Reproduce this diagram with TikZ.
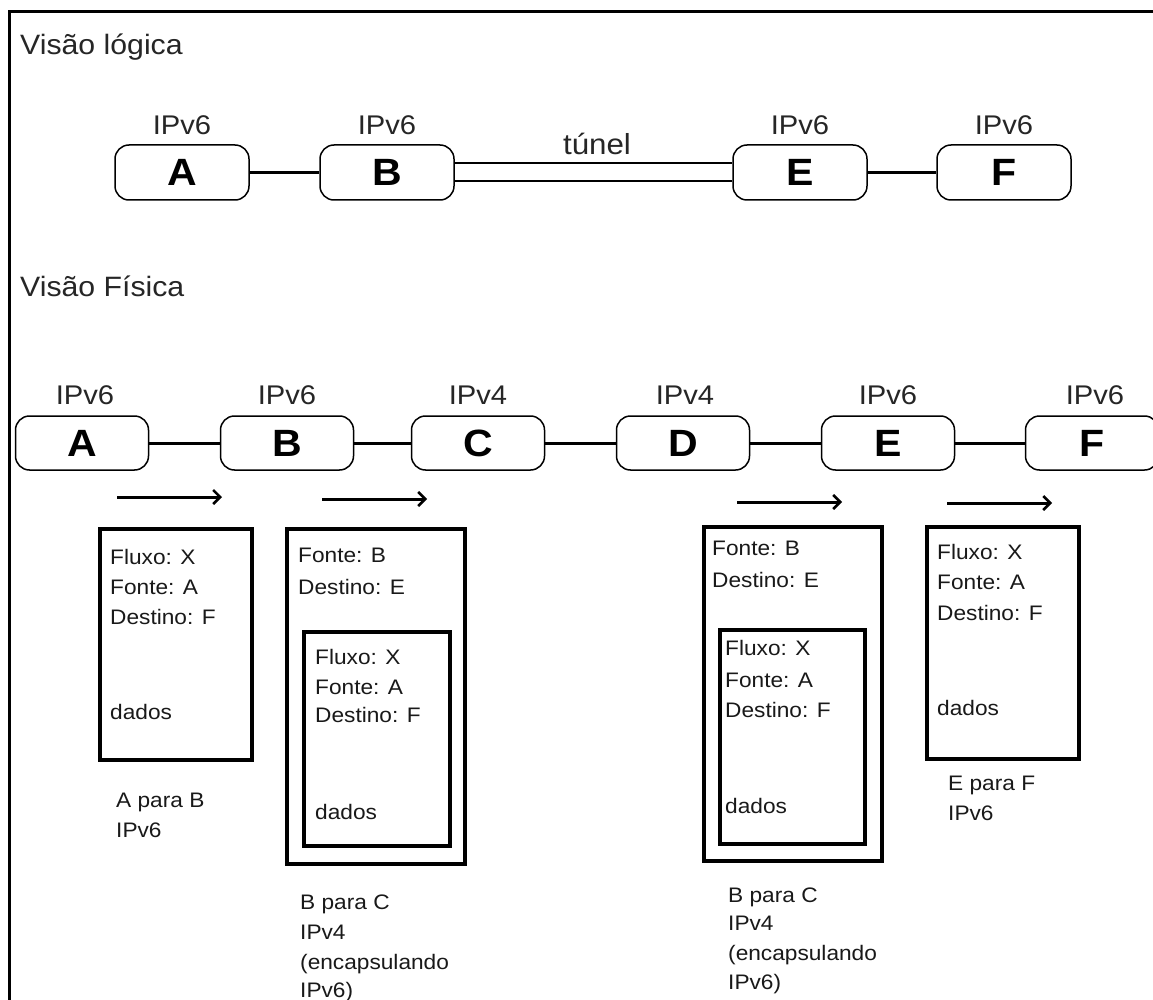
\documentclass[tikz,border=0pt]{standalone}
\usepackage{fontspec}
\setmainfont{Liberation Sans}[FakeStretch=1.08]
\usetikzlibrary{arrows.meta}
\begin{document}
\begin{tikzpicture}[x=1pt,y=-1pt,
  title/.style={anchor=base west, inner sep=0, font=\fontsize{28}{34}\selectfont, text=black!85},
  ver/.style={anchor=base, inner sep=0, font=\fontsize{27}{32}\selectfont, text=black!85},
  host/.style={draw, line width=1.5pt, rounded corners=14pt, minimum width=133pt, minimum height=54pt, inner sep=0, font=\fontsize{38}{44}\selectfont\bfseries},
  link/.style={line width=3pt},
  tun/.style={double, double distance=16pt, line width=2pt},
  flow/.style={line width=3pt, -{Straight Barb[length=7pt,width=14pt,line width=2.5pt]}},
  pkt/.style={draw, line width=4pt, inner sep=0, anchor=north west},
  txt/.style={anchor=base west, inner sep=0, font=\fontsize{21}{26}\selectfont, text=black!90}
]
\useasboundingbox (0,0) rectangle (1153,1000);
\fill[white] (0,0) rectangle (1153,1000);
\clip (0,0) rectangle (1153,1000);
\draw[line width=3pt] (9,1002) -- (9,12) -- (1156,12);

% ---------- Logical view ----------
\node[title] (tl) at (20,55) {Visão lógica};

\node[host, minimum width=134pt, minimum height=55pt] (lA) at (182,172.5) {A};
\node[host, minimum width=134pt, minimum height=55pt] (lB) at (387,172.5) {B};
\node[host, minimum width=134pt, minimum height=55pt] (lE) at (800,172.5) {E};
\node[host, minimum width=134pt, minimum height=55pt] (lF) at (1004,172.5) {F};

\node[ver] (vlA) at (182,135) {IPv6};
\node[ver] (vlB) at (387,135) {IPv6};
\node[ver] (vlE) at (800,135) {IPv6};
\node[ver] (vlF) at (1004,135) {IPv6};

\draw[link] (lA) -- (lB);
\draw[tun] (lB) -- (lE);
\draw[link] (lE) -- (lF);
\node[ver, font=\fontsize{29}{34}\selectfont] (tunel) at (597,155) {túnel};

% ---------- Physical view ----------
\node[title] (tp) at (20,296) {Visão Física};

\node[host] (pA) at (82,443) {A};
\node[host] (pB) at (287,443) {B};
\node[host] (pC) at (478,443) {C};
\node[host] (pD) at (683,443) {D};
\node[host] (pE) at (888,443) {E};
\node[host] (pF) at (1092,443) {F};

\node[ver] (vpA) at (85,404) {IPv6};
\node[ver] (vpB) at (287,404) {IPv6};
\node[ver] (vpC) at (478,404) {IPv4};
\node[ver] (vpD) at (685,404) {IPv4};
\node[ver] (vpE) at (888,404) {IPv6};
\node[ver] (vpF) at (1095,404) {IPv6};

\draw[link] (pA) -- (pB);
\draw[link] (pB) -- (pC);
\draw[link] (pC) -- (pD);
\draw[link] (pD) -- (pE);
\draw[link] (pE) -- (pF);

% flow arrows
\coordinate (f1s) at (117,497); \coordinate (f1e) at (222,497);
\coordinate (f2s) at (322,499); \coordinate (f2e) at (427,499);
\coordinate (f3s) at (737,502); \coordinate (f3e) at (842,502);
\coordinate (f4s) at (947,503); \coordinate (f4e) at (1052,503);
\draw[flow] (f1s) -- (f1e);
\draw[flow] (f2s) -- (f2e);
\draw[flow] (f3s) -- (f3e);
\draw[flow] (f4s) -- (f4e);

% packet 1 (A to B)
\node[pkt, minimum width=152pt, minimum height=231pt] (k1) at (98,527) {};
\node[txt] (k1a) at (110,564.5) {Fluxo: X};
\node[txt] (k1b) at (110,594.5) {Fonte: A};
\node[txt] (k1c) at (110,624.5) {Destino: F};
\node[txt] (k1d) at (110,719.5) {dados};
\node[txt] (c1a) at (116,807.5) {A para B};
\node[txt] (c1b) at (116,837.5) {IPv6};

% packet 2 (B to C, IPv4 encapsulating IPv6)
\node[pkt, minimum width=178pt, minimum height=335pt] (k2) at (285,527) {};
\node[txt] (k2a) at (298,562.5) {Fonte: B};
\node[txt] (k2b) at (298,594.5) {Destino: E};
\node[pkt, minimum width=146pt, minimum height=214pt] (k2i) at (302,630) {};
\node[txt] (k2c) at (315,664.5) {Fluxo: X};
\node[txt] (k2d) at (315,694.5) {Fonte: A};
\node[txt] (k2e) at (315,722.5) {Destino: F};
\node[txt] (k2f) at (315,819.5) {dados};
\node[txt] (c2a) at (300,909.5) {B para C};
\node[txt] (c2b) at (300,939.5) {IPv4};
\node[txt] (c2c) at (300,969.5) {(encapsulando};
\node[txt] (c2d) at (300,997.5) {IPv6)};

% packet 3 (B to C, IPv4 encapsulating IPv6)
\node[pkt, minimum width=178pt, minimum height=334pt] (k3) at (702,525) {};
\node[txt] (k3a) at (712,555.5) {Fonte: B};
\node[txt] (k3b) at (712,587.5) {Destino: E};
\node[pkt, minimum width=145pt, minimum height=214pt] (k3i) at (718,628) {};
\node[txt] (k3c) at (725,655.5) {Fluxo: X};
\node[txt] (k3d) at (725,687.5) {Fonte: A};
\node[txt] (k3e) at (725,717.5) {Destino: F};
\node[txt] (k3f) at (725,813.5) {dados};
\node[txt] (c3a) at (728,902.5) {B para C};
\node[txt] (c3b) at (728,930.5) {IPv4};
\node[txt] (c3c) at (728,960.5) {(encapsulando};
\node[txt] (c3d) at (728,989.5) {IPv6)};

% packet 4 (E to F)
\node[pkt, minimum width=152pt, minimum height=232pt] (k4) at (925,525) {};
\node[txt] (k4a) at (937,559.5) {Fluxo: X};
\node[txt] (k4b) at (937,589.5) {Fonte: A};
\node[txt] (k4c) at (937,620.5) {Destino: F};
\node[txt] (k4d) at (937,715.5) {dados};
\node[txt] (c4a) at (948,790.5) {E para F};
\node[txt] (c4b) at (948,820.5) {IPv6};
\end{tikzpicture}
\end{document}
